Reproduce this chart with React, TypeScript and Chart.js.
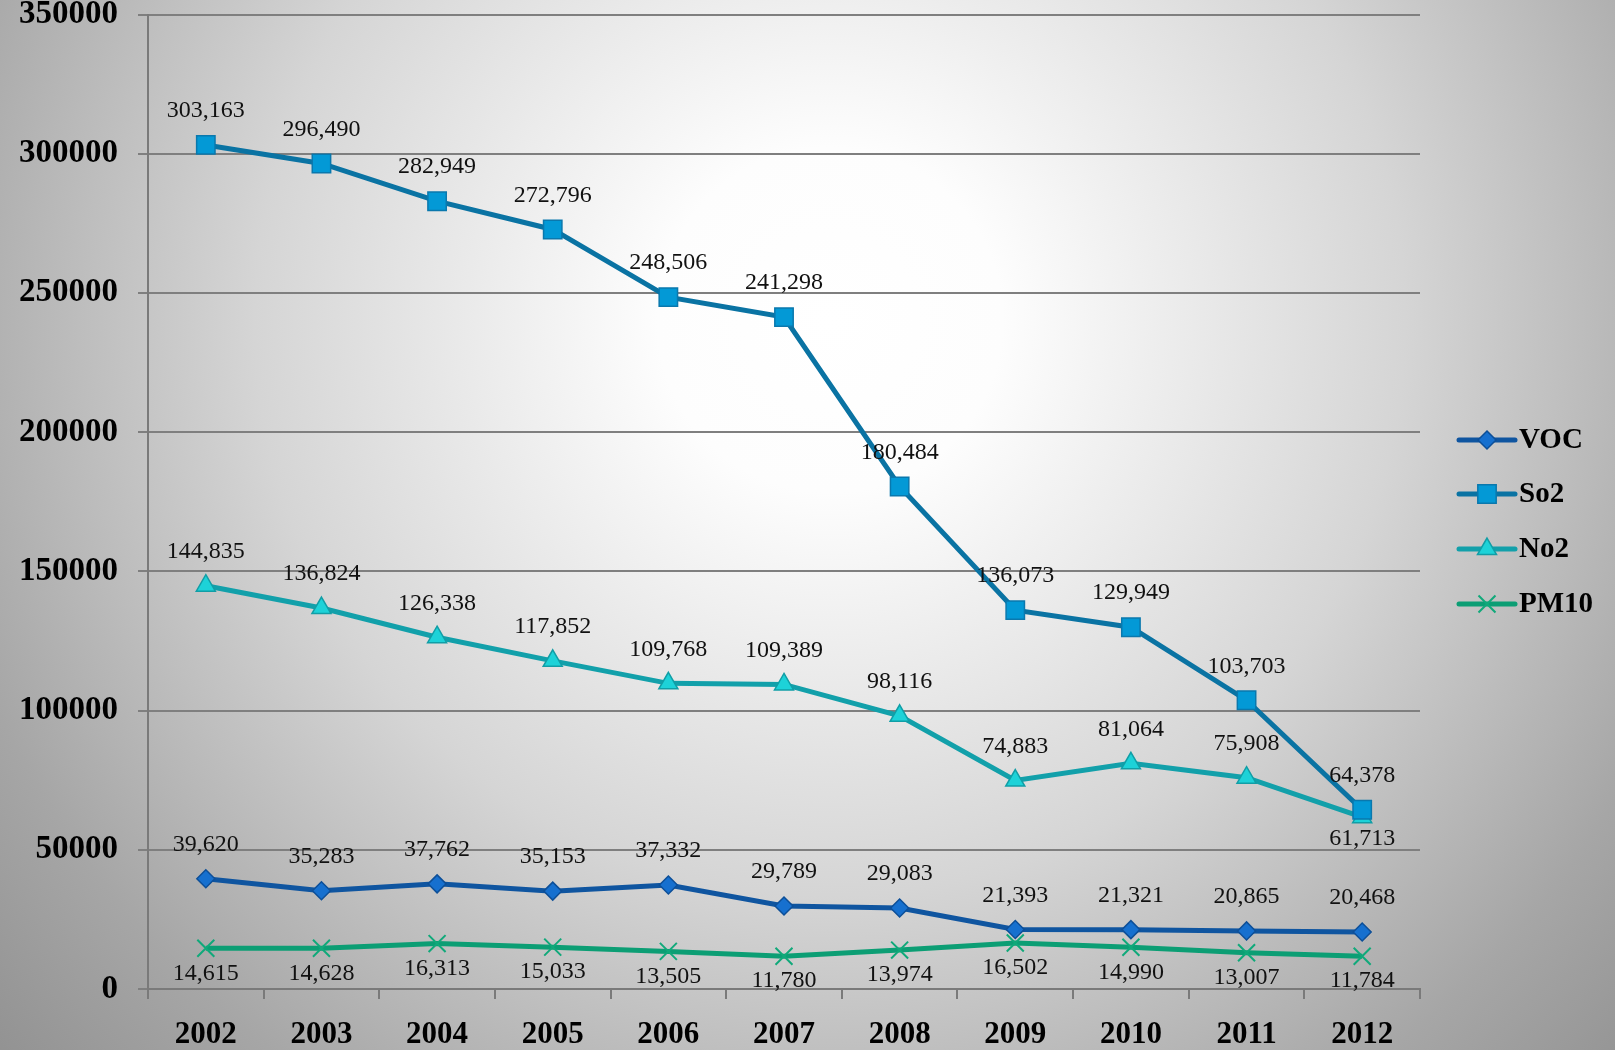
import React, { useEffect, useRef } from "react";
import { Chart, registerables } from "chart.js";

Chart.register(...registerables);

const years = ["2002", "2003", "2004", "2005", "2006", "2007", "2008", "2009", "2010", "2011", "2012"];
const vocValues = [39620, 35283, 37762, 35153, 37332, 29789, 29083, 21393, 21321, 20865, 20468];
const so2Values = [303163, 296490, 282949, 272796, 248506, 241298, 180484, 136073, 129949, 103703, 64378];
const no2Values = [144835, 136824, 126338, 117852, 109768, 109389, 98116, 74883, 81064, 75908, 61713];
const pm10Values = [14615, 14628, 16313, 15033, 13505, 11780, 13974, 16502, 14990, 13007, 11784];
const seriesNames = ["VOC", "So2", "No2", "PM10"];
const yTicks = [0, 50000, 100000, 150000, 200000, 250000, 300000, 350000];

const SERIF = "'Liberation Serif', 'DejaVu Serif', serif";

const bgPlugin = {
  id: "bg",
  beforeDraw(chart: any) {
    const { ctx, width, height } = chart;
    ctx.save();
    const g = ctx.createRadialGradient(830, 320, 0, 830, 320, 1150);
    g.addColorStop(0, "#ffffff");
    g.addColorStop(0.15, "#fdfdfd");
    g.addColorStop(0.5, "#d5d5d5");
    g.addColorStop(0.8, "#a6a6a6");
    g.addColorStop(1, "#8e8e8e");
    ctx.fillStyle = g;
    ctx.fillRect(0, 0, width, height);
    ctx.restore();
  },
};

const labelPlugin = {
  id: "valueLabels",
  afterDatasetsDraw(chart: any) {
    const { ctx } = chart;
    ctx.save();
    ctx.font = `24px ${SERIF}`;
    ctx.fillStyle = "#111";
    ctx.textAlign = "center";
    ctx.textBaseline = "middle";
    chart.data.datasets.forEach((ds: any, di: number) => {
      const meta = chart.getDatasetMeta(di);
      meta.data.forEach((pt: any, i: number) => {
        const v = ds.data[i] as number;
        let dy = -34;
        if (ds.labelBelow) dy = 25;
        if (ds.label === "No2" && i === ds.data.length - 1) dy = 22;
        ctx.fillText(v.toLocaleString("en-US"), pt.x, pt.y + dy);
      });
    });
    ctx.restore();
  },
};

function drawMarker(ctx: CanvasRenderingContext2D, style: string, x: number, y: number, r: number) {
  ctx.beginPath();
  if (style === "rectRot") {
    ctx.moveTo(x, y - r);
    ctx.lineTo(x + r, y);
    ctx.lineTo(x, y + r);
    ctx.lineTo(x - r, y);
    ctx.closePath();
    ctx.fill();
    ctx.stroke();
  } else if (style === "rect") {
    const s = Math.SQRT1_2 * r;
    ctx.rect(x - s, y - s, 2 * s, 2 * s);
    ctx.fill();
    ctx.stroke();
  } else if (style === "triangle") {
    const w = r * Math.sin(Math.PI / 3);
    ctx.moveTo(x, y - r);
    ctx.lineTo(x + w, y + r / 2);
    ctx.lineTo(x - w, y + r / 2);
    ctx.closePath();
    ctx.fill();
    ctx.stroke();
  } else {
    const o = Math.SQRT1_2 * r;
    ctx.moveTo(x - o, y - o);
    ctx.lineTo(x + o, y + o);
    ctx.moveTo(x + o, y - o);
    ctx.lineTo(x - o, y + o);
    ctx.stroke();
  }
}

const legendPlugin = {
  id: "customLegend",
  afterDraw(chart: any) {
    const { ctx } = chart;
    ctx.save();
    const x0 = 1459;
    const x1 = 1515;
    const ys = [440, 494, 549, 604];
    chart.data.datasets.forEach((ds: any, i: number) => {
      const y = ys[i];
      ctx.strokeStyle = ds.borderColor;
      ctx.lineWidth = 5;
      ctx.lineCap = "round";
      ctx.beginPath();
      ctx.moveTo(x0, y);
      ctx.lineTo(x1, y);
      ctx.stroke();
      ctx.lineCap = "butt";
      ctx.fillStyle = ds.pointBackgroundColor;
      ctx.strokeStyle = ds.pointBorderColor;
      ctx.lineWidth = ds.pointBorderWidth;
      drawMarker(ctx, ds.pointStyle, (x0 + x1) / 2, y, ds.pointRadius);
      ctx.fillStyle = "#000";
      ctx.font = `bold 29px ${SERIF}`;
      ctx.textAlign = "left";
      ctx.textBaseline = "middle";
      ctx.fillText(ds.label, x1 + 4, y + 1);
    });
    ctx.restore();
  },
};

export default function App() {
  const ref = useRef<HTMLCanvasElement | null>(null);

  useEffect(() => {
    document.body.style.margin = "0";
    if (!ref.current) return;
    const chart = new Chart(ref.current, {
      type: "line",
      data: {
        labels: years,
        datasets: [
          {
            label: seriesNames[0],
            data: vocValues,
            borderColor: "#0f55a0",
            borderWidth: 5,
            pointStyle: "rectRot",
            pointRadius: 9,
            pointBackgroundColor: "#1670cf",
            pointBorderColor: "#0d4f98",
            pointBorderWidth: 1.5,
          } as any,
          {
            label: seriesNames[1],
            data: so2Values,
            borderColor: "#0a73a3",
            borderWidth: 5,
            pointStyle: "rect",
            pointRadius: 13,
            pointBackgroundColor: "#0399d6",
            pointBorderColor: "#0a78ad",
            pointBorderWidth: 1.5,
          },
          {
            label: seriesNames[2],
            data: no2Values,
            borderColor: "#12a0aa",
            borderWidth: 5,
            pointStyle: "triangle",
            pointRadius: 11,
            pointBackgroundColor: "#1dd2d8",
            pointBorderColor: "#119ea6",
            pointBorderWidth: 1.5,
          },
          {
            label: seriesNames[3],
            data: pm10Values,
            borderColor: "#0c9e74",
            borderWidth: 5,
            pointStyle: "crossRot",
            pointRadius: 12,
            pointBackgroundColor: "#10a97a",
            pointBorderColor: "#10a97a",
            pointBorderWidth: 2,
            labelBelow: true,
          } as any,
        ],
      },
      options: {
        animation: false,
        responsive: false,
        maintainAspectRatio: false,
        layout: { padding: { top: 13, right: 195, left: 0, bottom: 0 } },
        plugins: {
          legend: { display: false },
          tooltip: { enabled: false },
        },
        scales: {
          x: {
            offset: true,
            grid: {
              offset: true,
              drawOnChartArea: false,
              drawTicks: true,
              tickLength: 10,
              color: "#7a7a7a",
              lineWidth: 2,
            },
            border: { color: "#7a7a7a", width: 2 },
            ticks: {
              color: "#000",
              padding: 17,
              font: { family: SERIF, size: 31, weight: "bold" },
            },
            afterFit: (s: any) => {
              s.height = 61;
              s.paddingLeft = 0;
              s.paddingRight = 0;
            },
          },
          y: {
            min: 0,
            max: 350000,
            afterBuildTicks: (s: any) => {
              s.ticks = yTicks.map((v) => ({ value: v }));
            },
            grid: {
              color: "#7f7f7f",
              lineWidth: 2,
              tickLength: 10,
            },
            border: { color: "#7a7a7a", width: 2 },
            ticks: {
              color: "#000",
              padding: 20,
              font: { family: SERIF, size: 33, weight: "bold", lineHeight: 0.75 },
              callback: (v: any) => String(v),
            },
            afterFit: (s: any) => {
              s.width = 148;
              s.paddingTop = 0;
              s.paddingBottom = 0;
            },
          },
        },
      },
      plugins: [bgPlugin, labelPlugin, legendPlugin],
    });
    return () => chart.destroy();
  }, []);

  return (
    <div style={{ width: 1615, height: 1050 }}>
      <canvas ref={ref} width={1615} height={1050} style={{ display: "block", width: 1615, height: 1050 }} />
    </div>
  );
}
